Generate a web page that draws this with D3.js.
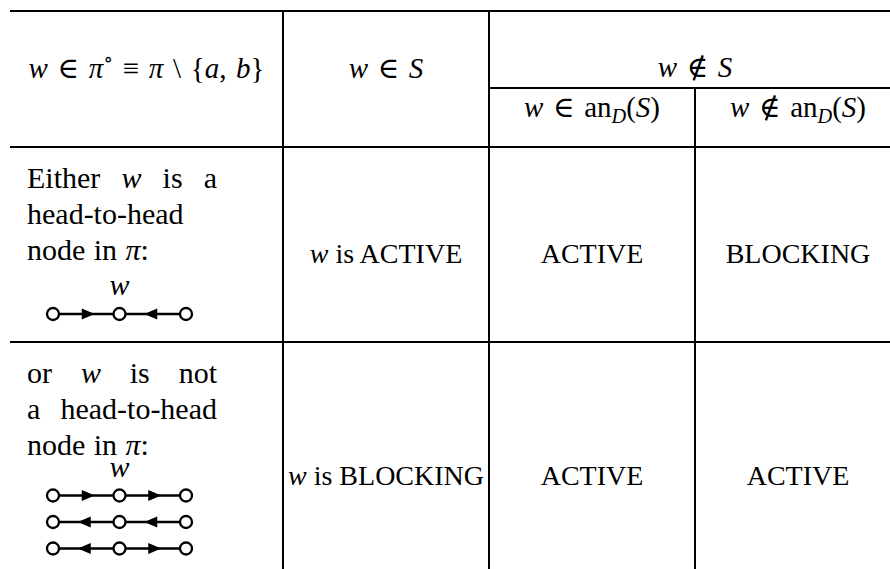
<!DOCTYPE html>
<html>
<head>
<meta charset="utf-8">
<script src="https://cdn.jsdelivr.net/npm/d3@7"></script>
<style>
body { margin: 0; background: #fff; }
text { font-family: "Liberation Serif", "DejaVu Serif", serif; fill: #000; white-space: pre; }
</style>
</head>
<body>
<div id="table"></div>
<script>
// text markup: *x* italic, _x subscript, ^x superscript
var firstHeader = "*w* ∈ *π*^∘ ≡ *π* \\ {*a*, *b*}";
var columns = ["inS", "inAn", "notAn"];
var colHeaders = ["*w* ∈ *S*", "*w* ∉ *S*"];
var subHeaders = ["*w* ∈ an_*D*(*S*)", "*w* ∉ an_*D*(*S*)"];

var rowText = [
  ["Either *w* is a", "head-to-head", "node in *π*:"],
  ["or *w* is not", "a head-to-head", "node in *π*:"]
];
// arrow direction on each edge of the 3-node path
var rowPaths = [
  [["right", "left"]],
  [["right", "right"], ["left", "left"], ["left", "right"]]
];
var cellValues = [
  ["*w* is ACTIVE", "ACTIVE", "BLOCKING"],
  ["*w* is BLOCKING", "ACTIVE", "ACTIVE"]
];

var w = 890, h = 569;
var fs = 28, fsHead = 29, fsPar = 30;

var svg = d3.select("#table")
            .append("svg")
            .attr("width", w)
            .attr("height", h);

// column scales
var x = d3.scaleBand().domain(columns).range([283, 901]);
var left = 10, firstCol = 283;
var rowTop = d3.scaleOrdinal().domain([0, 1]).range([147, 342]);
var nodeX = d3.scalePoint().domain([0, 1, 2]).range([53, 186]);

function parse(s) {
    var out = [], i = 0, buf = "";
    function flush() { if (buf) { out.push({t: buf, it: false, pos: 0}); buf = ""; } }
    while (i < s.length) {
        var c = s[i], j;
        if (c === "_" || c === "^") {
            flush();
            var pos = c === "_" ? 1 : -1;
            i++;
            if (s[i] === "*") {
                j = s.indexOf("*", i + 1);
                out.push({t: s.slice(i + 1, j), it: true, pos: pos});
                i = j + 1;
            } else {
                out.push({t: s[i], it: false, pos: pos});
                i++;
            }
        } else if (c === "*") {
            flush();
            j = s.indexOf("*", i + 1);
            out.push({t: s.slice(i + 1, j), it: true, pos: 0});
            i = j + 1;
        } else { buf += c; i++; }
    }
    flush();
    return out;
}

function rich(sel, s, size, math) {
    var off = 0;
    parse(s).forEach(function(p) {
        var target = p.pos === 1 ? size * 0.22 : p.pos === -1 ? -size * 0.4 : 0;
        var txt = math && !p.it ? p.t.replace(/ /g, "\u2004") : p.t;
        sel.append("tspan")
            .attr("dy", target - off)
            .attr("font-style", p.it ? "italic" : "normal")
            .attr("font-size", p.pos ? size * 0.7 : size)
            .text(txt);
        off = target;
    });
    return sel;
}

function label(s, cx, y, size, math) {
    var t = svg.append("text")
        .attr("x", cx)
        .attr("y", y)
        .attr("text-anchor", "middle")
        .attr("font-size", size);
    return rich(t, s, size, math);
}

// rules
var lines = [
    [left, 11, 901, 11],
    [x("inAn"), 88, 901, 88],
    [left, 147, 901, 147],
    [left, 342, 901, 342],
    [firstCol, 11, firstCol, h],
    [x("inAn"), 11, x("inAn"), h],
    [x("notAn"), 88, x("notAn"), h]
];
svg.selectAll(".rule")
    .data(lines)
    .enter()
    .append("line")
    .attr("class", "rule")
    .attr("x1", function(d) { return d[0]; })
    .attr("y1", function(d) { return d[1]; })
    .attr("x2", function(d) { return d[2]; })
    .attr("y2", function(d) { return d[3]; })
    .attr("stroke", "#000")
    .attr("stroke-width", 2);

// headers
label(firstHeader, (left + firstCol) / 2, 78, fsHead, true);
label(colHeaders[0], x("inS") + x.bandwidth() / 2, 78, fsHead, true);
label(colHeaders[1], x("inAn") + x.bandwidth(), 77, fsHead, true);
subHeaders.forEach(function(s, i) {
    var c = columns[i + 1];
    label(s, x(c) + x.bandwidth() / 2, 117, fsHead, true);
});

// first column paragraphs, justified except last line
var parL = 27, parR = 217, lineGap = 35.8;
rowText.forEach(function(par, r) {
    par.forEach(function(line, k) {
        var y = rowTop(r) + 41 + k * lineGap;
        var words = line.split(" ");
        var nodes = words.map(function(wd) {
            var t = svg.append("text").attr("y", y).attr("font-size", fsPar);
            rich(t, wd, fsPar, false);
            return t;
        });
        var widths = nodes.map(function(t) { return t.node().getComputedTextLength(); });
        var total = d3.sum(widths);
        var gap = (k < par.length - 1 && words.length > 1)
            ? (parR - parL - total) / (words.length - 1)
            : fsPar * 0.28;
        var cx = parL;
        nodes.forEach(function(t, i) {
            t.attr("x", cx);
            cx += widths[i] + gap;
        });
    });
});

// path diagrams
var wLabelY = [295, 477], pathY0 = [314, 495.5], pathStep = 26.5;
rowPaths.forEach(function(paths, r) {
    label("*w*", nodeX(1), wLabelY[r], fsPar, true);
    paths.forEach(function(dirs, p) {
        var y = pathY0[r] + p * pathStep;
        var g = svg.append("g");
        g.append("line")
            .attr("x1", nodeX(0)).attr("x2", nodeX(2))
            .attr("y1", y).attr("y2", y)
            .attr("stroke", "#000").attr("stroke-width", 2.4);
        g.selectAll("path")
            .data(dirs)
            .enter()
            .append("path")
            .attr("d", function(d, i) {
                var mid = (nodeX(i) + nodeX(i + 1)) / 2;
                var s = d === "right" ? 1 : -1;
                var tip = mid + 8.5 * s, base = mid - 4.5 * s;
                return "M" + tip + "," + y + "L" + base + "," + (y - 5.4) + "L" + base + "," + (y + 5.4) + "Z";
            })
            .attr("fill", "#000");
        g.selectAll("circle")
            .data(nodeX.domain())
            .enter()
            .append("circle")
            .attr("cx", function(d) { return nodeX(d); })
            .attr("cy", y)
            .attr("r", 6)
            .attr("fill", "#fff")
            .attr("stroke", "#000")
            .attr("stroke-width", 2.3);
    });
});

// cell values
var cellBase = [263, 485];
cellValues.forEach(function(row, r) {
    row.forEach(function(v, c) {
        label(v, x(columns[c]) + x.bandwidth() / 2, cellBase[r], fs, false);
    });
});
</script>
</body>
</html>
